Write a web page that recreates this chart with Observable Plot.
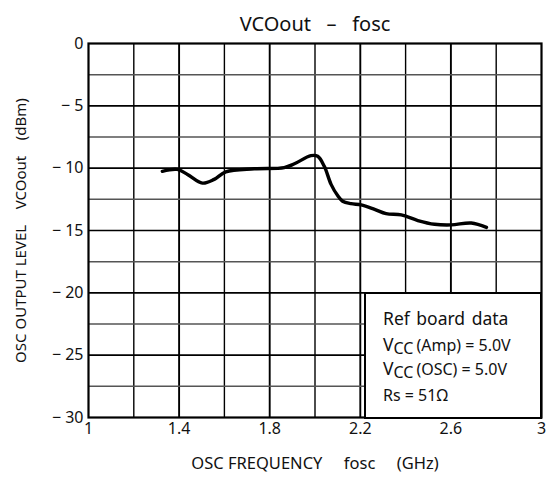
<!DOCTYPE html>
<html>
<head>
<meta charset="utf-8">
<script src="https://cdn.jsdelivr.net/npm/d3@7"></script>
<script src="https://cdn.jsdelivr.net/npm/@observablehq/plot@0.6"></script>
<style>
  html, body { margin: 0; padding: 0; background: #fff; }
  #wrap { position: relative; width: 552px; height: 482px; font-family: "Noto Sans", sans-serif; }
  #legend { position: absolute; left: 364px; top: 292px; width: 174px; height: 123px;
    background: #fff; border: 2px solid #000; box-sizing: content-box; color: #111; font-size: 17.5px; word-spacing: 2px; }
  #legend div { position: absolute; left: 17px; white-space: nowrap; line-height: 18px; }
  #legend sub { font-size: 16px; vertical-align: baseline; position: relative; top: 3px; margin-right: 3px; }
  #legend .sm { font-size: 16px; word-spacing: 0; }
</style>
</head>
<body>
<div id="wrap"></div>
<script>
const title = "VCOout   –   fosc";
const xLabel = "OSC FREQUENCY     fosc     (GHz)";
const yLabel = "OSC OUTPUT LEVEL    VCOout    (dBm)";
const xTicks = [1, 1.4, 1.8, 2.2, 2.6, 3];
const xGrid = [1.2, 1.4, 1.6, 1.8, 2.0, 2.2, 2.4, 2.6, 2.8];
const yTicks = [0, -5, -10, -15, -20, -25, -30];
const yGrid = [-2.5, -5, -7.5, -10, -12.5, -15, -17.5, -20, -22.5, -25, -27.5];
const freq  = [1.326, 1.392, 1.437, 1.503, 1.555, 1.606, 1.732, 1.864, 1.909, 1.982, 2.012, 2.041, 2.071, 2.100, 2.122, 2.159, 2.204, 2.263, 2.314, 2.381, 2.454, 2.528, 2.602, 2.690, 2.757];
const level = [-10.25, -10.1, -10.5, -11.2, -10.9, -10.3, -10.05, -9.95, -9.65, -9.0, -9.05, -9.85, -11.3, -12.2, -12.65, -12.85, -12.95, -13.3, -13.65, -13.75, -14.2, -14.5, -14.55, -14.4, -14.75];
const legendLines = ["Ref board data", "V<sub>CC</sub><span class='sm'>(Amp) = 5.0V</span>", "V<sub>CC</sub><span class='sm'>(OSC) = 5.0V</span>", "<span class='sm'>Rs = 51Ω</span>"];

const pts = freq.map((f, i) => ({f, v: level[i]}));
const major = v => xTicks.includes(+v.toFixed(1));
const majorY = v => v % 5 === 0;

const chart = Plot.plot({
  width: 552, height: 482,
  marginLeft: 88, marginRight: 11, marginTop: 43, marginBottom: 65,
  style: {fontFamily: "Noto Sans, sans-serif", fontSize: "15px", color: "#111", background: "#fff"},
  x: {domain: [1, 3]},
  y: {domain: [-30, 0]},
  marks: [
    Plot.ruleX(xGrid, {stroke: "#000", strokeWidth: d => major(d) ? 1.9 : 1.4}),
    Plot.ruleY(yGrid, {stroke: d => majorY(d) ? "#000" : "#555", strokeWidth: d => majorY(d) ? 1.7 : 1.5}),
    Plot.line(pts, {x: "f", y: "v", curve: "catmull-rom", stroke: "#000", strokeWidth: 3.4, strokeLinejoin: "round", strokeLinecap: "round"}),
    Plot.frame({stroke: "#000", strokeWidth: 2.2}),
    Plot.axisX({ticks: xTicks, tickSize: 0, tickPadding: 5, tickFormat: d => String(d), label: null, fontSize: 16}),
    Plot.axisY({ticks: yTicks, tickSize: 0, tickPadding: 5, tickFormat: d => d === 0 ? "0" : "− " + Math.abs(d), label: null, fontSize: 16}),
    Plot.text([title], {frameAnchor: "top", dy: -27, text: d => d, fontSize: 20, fill: "#111"}),
    Plot.text([xLabel], {frameAnchor: "bottom", dy: 51, text: d => d, fontSize: 16.5, fill: "#111"}),
    Plot.text([yLabel], {frameAnchor: "left", dx: -67, rotate: -90, textAnchor: "middle", text: d => d, fontSize: 15, fill: "#111"})
  ]
});
const wrap = document.getElementById("wrap");
wrap.appendChild(chart);
const lg = document.createElement("div");
lg.id = "legend";
const tops = [15, 41, 65, 91];
legendLines.forEach((t, i) => {
  const d = document.createElement("div");
  d.style.top = tops[i] + "px";
  d.innerHTML = t;
  lg.appendChild(d);
});
wrap.appendChild(lg);
</script>
</body>
</html>
